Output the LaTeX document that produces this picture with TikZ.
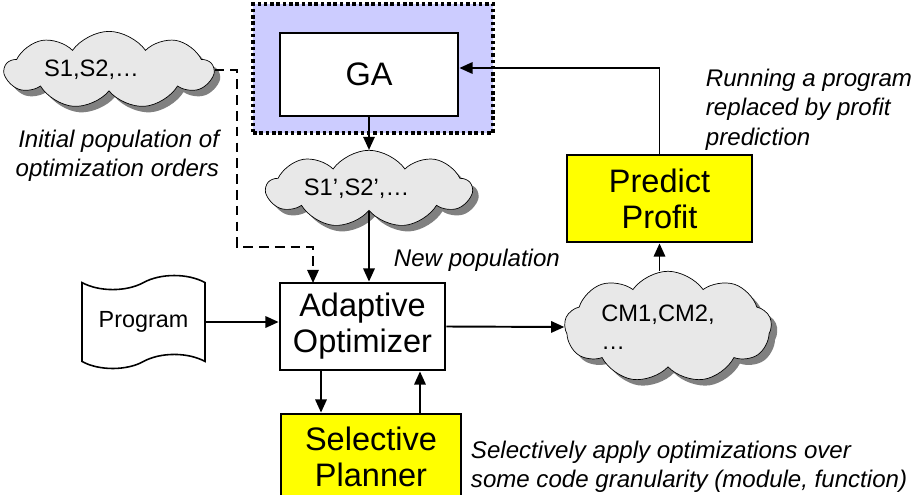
\documentclass[tikz,border=0pt]{standalone}
\usepackage{fontspec}
\setmainfont{Liberation Sans}
\usepackage{tikz}
\usetikzlibrary{arrows.meta,shapes.symbols,shadows}
\definecolor{cblue}{rgb}{0.8, 0.8, 1}
\definecolor{cyellow}{rgb}{1, 1, 0}
\definecolor{ccloud}{rgb}{0.91, 0.91, 0.91}

\begin{document}
\begin{tikzpicture}[->,>={Triangle[length=7.5pt,width=6.5pt]},x=0.02cm,y=-0.02cm,
  line width=1.1pt,
  box node/.style={rectangle,draw,line width=1.6pt,font=\fontsize{18.5}{20.5}\selectfont,align=center},
  plan node/.style={box node,fill=cyellow},
  cloud node/.style={cloud,cloud puffs=9,cloud puff arc=110,cloud ignores aspect,draw,thin,fill=ccloud,
    font=\fontsize{13.5}{16}\selectfont,
    drop shadow={fill=gray,opacity=1,shadow xshift=3.4pt,shadow yshift=-3.4pt}},
  note node/.style={font=\fontsize{13.7}{16.7}\selectfont\itshape,align=left,inner sep=0pt}]
  \useasboundingbox (0,0) rectangle (912,494);

  \node[draw,fill=cblue,line width=2pt,dash pattern=on 2pt off 1.6pt,
    minimum width=4.8cm,minimum height=2.58cm] (gabg) at (373,68.5) {};
  \node[box node,fill=white,minimum width=3.56cm,minimum height=1.66cm] (ga) at (369,74.5) {GA};
  \node[cloud node,minimum width=4.16cm,minimum height=1.25cm] (init) at (109,70) {S1,S2,…\hspace{0.7cm}\mbox{}};
  \node[cloud node,minimum width=4.1cm,minimum height=1.34cm] (newpop) at (369,189) {S1’,S2’,…\hspace{0.5cm}\mbox{}};
  \node[box node,minimum width=3.3cm,minimum height=1.74cm] (ao) at (362.5,326.5) {Adaptive\\Optimizer};
  \node[tape,draw,line width=0.9pt,tape bend height=8pt,minimum width=2.46cm,minimum height=1.86cm,
    font=\fontsize{13.3}{16}\selectfont] (prog) at (143.5,322) {Program};
  \node[cloud node,minimum width=4.06cm,minimum height=1.62cm,align=left] (cm) at (668,327) {CM1,CM2,\hspace{0.4cm}\mbox{}\\…};
  \node[plan node,minimum width=3.7cm,minimum height=1.74cm] (pp) at (659.5,198.5) {Predict\\Profit};
  \node[plan node,minimum width=3.6cm,minimum height=1.72cm] (sp) at (371,457) {Selective\\Planner};

  \node[note node,anchor=east,align=right] (initnote) at (220,156) {Initial population of\\optimization orders};
  \node[note node,anchor=west] (newnote) at (393,260) {New population};
  \node[note node,anchor=north west] (runnote) at (705,68) {Running a program\\replaced by profit\\prediction};
  \node[note node,anchor=west] (selnote) at (470,467) {Selectively apply optimizations over\\some code granularity (module, function)};

  \coordinate (dbend) at (237,247);
  \coordinate (dend) at (313,283);
  \path
    (ga.south) edge (newpop.north)
    (newpop.south) edge (newpop.south |- ao.north)
    (prog.east) edge (prog.east -| ao.west)
    (ao.east) edge (cm.west)
    (pp.south |- cm.north) edge (pp.south);
  \draw[dash pattern=on 5.5pt off 3.5pt] (init.east) -| (dbend) -| (dend);
  \draw (pp.north) |- ([yshift=0.13cm]ga.east);
  \draw ([xshift=-0.83cm]ao.south) -- ([xshift=-0.83cm]ao.south |- sp.north);
  \draw ([xshift=1.15cm]ao.south |- sp.north) -- ([xshift=1.15cm]ao.south);
\end{tikzpicture}
\end{document}
